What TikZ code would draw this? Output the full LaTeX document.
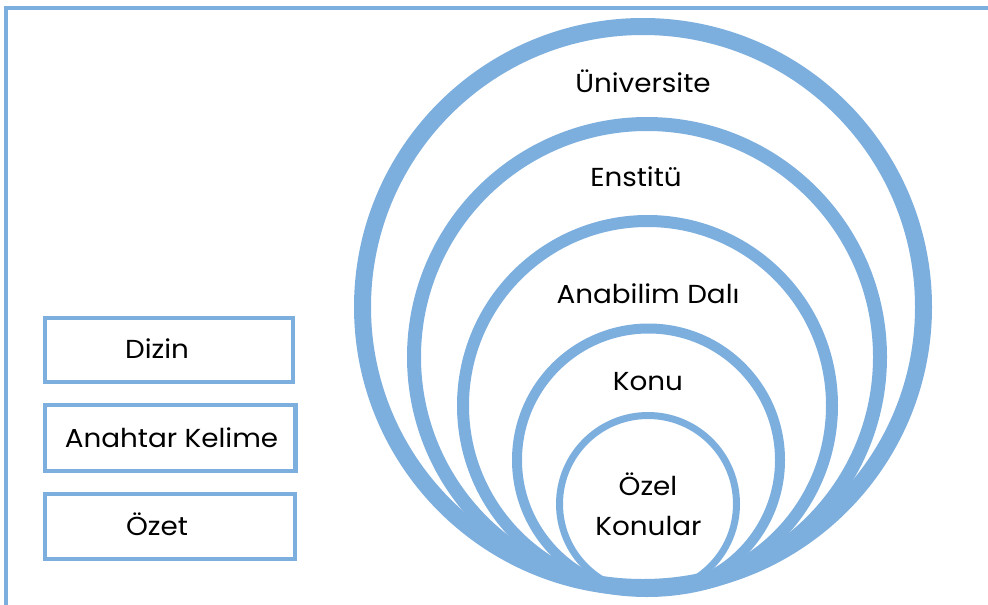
\documentclass[tikz,border=0pt]{standalone}
\usepackage{fontspec}
\setmainfont{Poppins}[FakeStretch=1.07]
\definecolor{ringblue}{RGB}{125,175,222}
\begin{document}
\begin{tikzpicture}[x=1pt,y=-1pt,
  ring/.style={draw=ringblue},
  lbl/.style={font=\fontsize{26}{29}\selectfont, text=black, anchor=base, inner sep=0pt},
  sidebox/.style={draw=ringblue, line width=4.5pt, fill=white}]
\useasboundingbox (0,0) rectangle (988,605);
% frame (runs off the right and bottom)
\draw[ringblue, line width=4pt] (6,620) -- (6,8) -- (1000,8);
% nested circles
\draw[ring, line width=17pt] (643,307) circle (280.5);
\draw[ring, line width=14pt] (647,357) circle (233);
\draw[ring, line width=12pt] (647.5,405.5) circle (184.5);
\draw[ring, line width=10pt] (648.5,460) circle (131.5);
\draw[ring, line width=7pt] (648,504) circle (88.5);
% circle labels
\node[lbl] (uni) at (643,92) {Üniversite};
\node[lbl] (ens) at (636,186) {Enstitü};
\node[lbl] (ana) at (648,303) {Anabilim Dalı};
\node[lbl] (konu) at (648,390) {Konu};
\node[lbl] (ozel) at (648,495) {Özel};
\node[lbl] (konular) at (648.5,535) {Konular};
% side boxes
\draw[sidebox] (45,318) rectangle (293,382);
\draw[sidebox] (45,405) rectangle (295.5,471);
\draw[sidebox] (45,494) rectangle (295,559);
\node[lbl] (dizin) at (157,358) {Dizin};
\node[lbl] (anahtar) at (171.5,447) {Anahtar Kelime};
\node[lbl] (ozet) at (157,535) {Özet};
\end{tikzpicture}
\end{document}
